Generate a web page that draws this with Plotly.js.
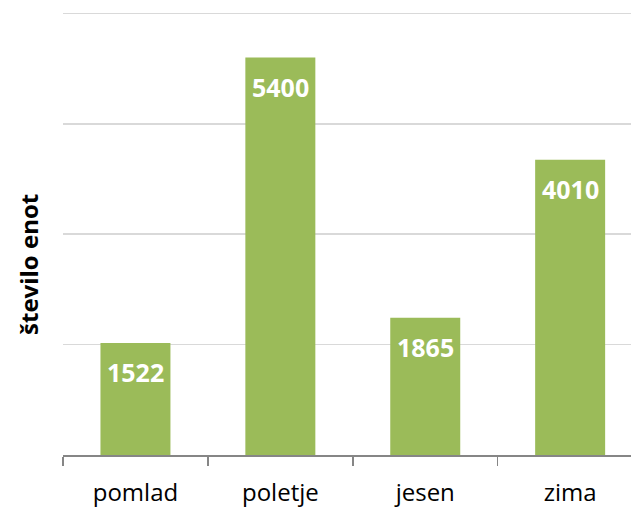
<!DOCTYPE html>
<html>
<head>
<meta charset="utf-8">
<script src="https://cdn.plot.ly/plotly-3.0.1.min.js"></script>
<style>html,body{margin:0;padding:0;background:#fff;}#chart{width:631px;height:507px;}</style>
</head>
<body>
<div id="chart"></div>
<script>
var categories = ["pomlad", "poletje", "jesen", "zima"];
var values = [1522, 5400, 1865, 4010];
var yTitle = "število enot";

var trace = {
  type: "bar",
  x: categories,
  y: values,
  marker: {color: "#9BBB59"},
  width: 0.483,
  hoverinfo: "none"
};

var annotations = categories.map(function (c, i) {
  return {
    x: c, y: values[i], xref: "x", yref: "y",
    text: String(values[i]), showarrow: false,
    yanchor: "middle", xanchor: "center", yshift: -29,
    font: {family: "Open Sans", size: 25, color: "#ffffff", weight: "bold"}
  };
});

annotations.push({
  xref: "paper", yref: "paper", x: -0.062, y: 0.425,
  xanchor: "center", yanchor: "middle", textangle: -90,
  text: yTitle, showarrow: false,
  font: {family: "Open Sans", size: 24, color: "#000000", weight: "bold"}
});

var layout = {
  width: 631, height: 507,
  margin: {l: 62.5, r: 0, t: 5.6, b: 52, pad: 0},
  paper_bgcolor: "#ffffff", plot_bgcolor: "#ffffff",
  showlegend: false,
  bargap: 0.517,
  xaxis: {
    type: "category",
    range: [-0.5, 3.42],
    showgrid: false,
    showline: true, linecolor: "#868686", linewidth: 1.5,
    ticks: "outside", tickson: "boundaries", ticklen: 9, tickcolor: "#868686", tickwidth: 1.5,
    tickfont: {family: "Open Sans", size: 24, color: "#000000"},
    ticklabelstandoff: 16,
    zeroline: false, fixedrange: true
  },
  yaxis: {
    range: [0, 6100],
    dtick: 1500, tick0: 0,
    showgrid: true, gridcolor: "#D9D9D9", gridwidth: 1.5,
    showticklabels: false, ticks: "",
    zeroline: false, showline: false,
    fixedrange: true
  },
  annotations: annotations
};

Plotly.newPlot("chart", [trace], layout, {staticPlot: true, displayModeBar: false});
</script>
</body>
</html>
